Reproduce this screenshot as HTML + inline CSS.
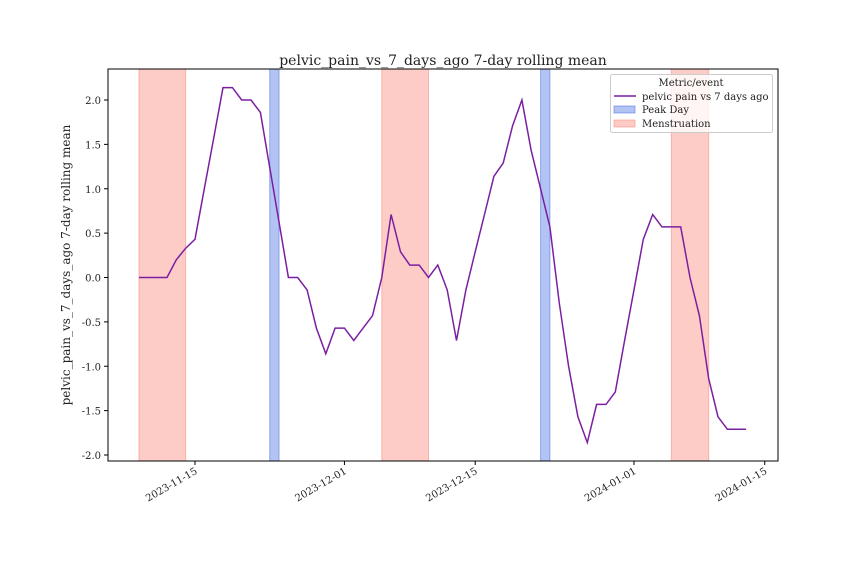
<!DOCTYPE html>
<html><head><meta charset="utf-8"><style>
body{margin:0;background:#fff}
svg text{font-family:"DejaVu Serif","Liberation Serif",serif;fill:#222}
</style></head><body>
<svg id="chart" width="864" height="576" xmlns="http://www.w3.org/2000/svg">
<rect width="864" height="576" fill="#fff"/>
<g id="spans"></g>
<g id="line"></g>
<g id="axes"></g>
</svg>
<script>
const startDay = -6; // days relative to 2023-11-15
const values = [0,0,0,0,0.2,0.33,0.43,1.0,1.57,2.14,2.14,2.0,2.0,1.86,1.24,0.62,0,0,-0.14,-0.57,-0.86,-0.57,-0.57,-0.71,-0.57,-0.43,0,0.71,0.29,0.14,0.14,0,0.14,-0.14,-0.71,-0.14,0.29,0.71,1.14,1.29,1.71,2.0,1.43,1.0,0.57,-0.29,-1.0,-1.57,-1.86,-1.43,-1.43,-1.29,-0.71,-0.14,0.43,0.71,0.57,0.57,0.57,0,-0.43,-1.14,-1.57,-1.71,-1.71,-1.71];
const mensesStart = [-6,20,51];
const mensesEnd = [-1,25,55];
const peakStart = [8,37];
const peakEnd = [9,38];
const xTickDays = [0,16,30,47,61];
const xTickLabels = ["2023-11-15","2023-12-01","2023-12-15","2024-01-01","2024-01-15"];
const yTicks = [-2,-1.5,-1,-0.5,0,0.5,1,1.5,2];

const L=108,R=778,T=69,B=461;
const x = d => 195 + d*9.34;
const y = v => 277.5 - v*88.75;
const NS="http://www.w3.org/2000/svg";
function mk(tag, attrs, parent){const e=document.createElementNS(NS,tag);for(const k in attrs)e.setAttribute(k,attrs[k]);parent.appendChild(e);return e;}
const spans=document.getElementById('spans'), lineG=document.getElementById('line'), axes=document.getElementById('axes');

mensesStart.forEach((s,i)=>{
  const r=mk('rect',{x:x(s),y:T,width:x(mensesEnd[i])-x(s),height:B-T,fill:'#fa8072','fill-opacity':0.4,stroke:'#fa8072','stroke-opacity':0.5},spans);
  
  
});
peakStart.forEach((s,i)=>{
  const r=mk('rect',{x:x(s),y:T,width:x(peakEnd[i])-x(s),height:B-T,fill:'#4169e1','fill-opacity':0.4,stroke:'#4169e1','stroke-opacity':0.5},spans);
  
  
});
const pts=values.map((v,i)=>x(startDay+i).toFixed(1)+','+y(v).toFixed(1)).join(' ');
const pl=mk('polyline',{points:pts,fill:'none',stroke:'#7b1fa2','stroke-width':1.5},lineG);



const frame=mk('rect',{x:L,y:T,width:R-L,height:B-T,fill:'none',stroke:'#000','stroke-width':1},axes);


yTicks.forEach(v=>{
  mk('line',{x1:L-4,x2:L,y1:y(v),y2:y(v),stroke:'#000'},axes);
  const t=mk('text',{x:L-7,y:y(v)+4,'text-anchor':'end','font-size':10},axes);
  t.textContent=v.toFixed(1);
  
  
});
xTickDays.forEach((d,i)=>{
  mk('line',{x1:x(d),x2:x(d),y1:B,y2:B+4,stroke:'#000'},axes);
  const t=mk('text',{x:x(d)+3,y:B+12,'text-anchor':'end','font-size':10,transform:`rotate(-30 ${x(d)+3} ${B+12})`},axes);
  t.textContent=xTickLabels[i];
  
  
});
</script>
<svg width="864" height="576" style="position:absolute;left:0;top:0" xmlns="http://www.w3.org/2000/svg">
<text x="443" y="65" text-anchor="middle" font-size="14">pelvic_pain_vs_7_days_ago 7-day rolling mean</text>
<text transform="rotate(-90 70 265)" x="70" y="265" text-anchor="middle" font-size="12">pelvic_pain_vs_7_days_ago 7-day rolling mean</text>
<g>
<rect x="610.5" y="74.5" width="162" height="58" rx="2" fill="#fff" fill-opacity="0.8" stroke="#ccc"/>
<text x="691" y="86" text-anchor="middle" font-size="10">Metric/event</text>
<line x1="614" x2="636" y1="96" y2="96" stroke="#7b1fa2" stroke-width="1.5"/>
<text x="642" y="100" font-size="10">pelvic pain vs 7 days ago</text>
<rect x="614" y="106" width="21" height="7" fill="#4169e1" fill-opacity="0.4" stroke="#4169e1" stroke-opacity="0.5"/>
<text x="642" y="113" font-size="10">Peak Day</text>
<rect x="614" y="120" width="21" height="7" fill="#fa8072" fill-opacity="0.4" stroke="#fa8072" stroke-opacity="0.5"/>
<text x="642" y="127" font-size="10">Menstruation</text>
</g>
</svg>
</body></html>
